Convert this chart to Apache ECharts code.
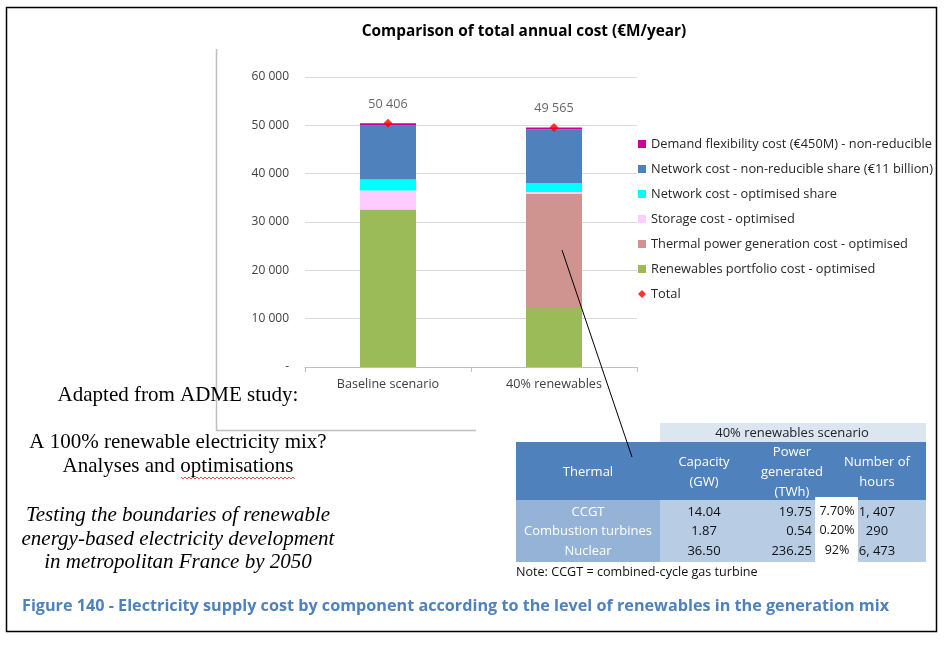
<!DOCTYPE html>
<html>
<head>
<meta charset="utf-8">
<script src="https://cdn.jsdelivr.net/npm/echarts@6.0.0/dist/echarts.min.js"></script>
<style>
html,body{margin:0;padding:0;background:#fff;}
#main{width:950px;height:647px;}
</style>
</head>
<body>
<div id="main"></div>
<script>
// chart data
var scenarios = ['Baseline scenario', '40% renewables'];
var renewablesCost = [32600, 12400];
var thermalCost = [0, 23400];
var storageCost = [3900, 400];
var networkOptCost = [2300, 1800];
var networkFixedCost = [11156, 11115];
var demandFlexCost = [450, 450];
var totalCost = [50406, 49565];
var yTicks = [0, 10000, 20000, 30000, 40000, 50000, 60000];

// table data (40% renewables scenario)
var thermalRows = ['CCGT', 'Combustion turbines', 'Nuclear'];
var capacityGW = ['14.04', '1.87', '36.50'];
var powerTWh = ['19.75', '0.54', '236.25'];
var powerShare = ['7.70%', '0.20%', '92%'];
var hoursRun = ['1, 407', '290', '6, 473'];

function fmt(v){
	if(v === 0) return '-';
	return String(v).replace(/\B(?=(\d{3})+(?!\d))/g, ' ');
}

var font = '"Open Sans", sans-serif';
var serif = '"Liberation Serif", "Times New Roman", serif';

var g = [];
// outer frame
g.push({type:'rect', shape:{x:6.5, y:7.5, width:930, height:624}, style:{fill:'none', stroke:'#000', lineWidth:1.5}, z:0});
// chart object frame (left + bottom)
g.push({type:'polyline', shape:{points:[[216.5,49],[216.5,430.5],[476,430.5]]}, style:{fill:'none', stroke:'#BFBFBF', lineWidth:1.5}});

// left text block
var leftLines = [
	{t:'Adapted from ADME study:', y:395, i:false},
	{t:'A 100% renewable electricity mix?', y:442, i:false},
	{t:'Analyses and optimisations', y:466, i:false},
	{t:'Testing the boundaries of renewable', y:515, i:true},
	{t:'energy-based electricity development', y:539, i:true},
	{t:'in metropolitan France by 2050', y:562, i:true}
];
leftLines.forEach(function(l){
	g.push({type:'text', z:10, style:{text:l.t, x:178, y:l.y, textAlign:'center', textVerticalAlign:'middle',
		font:(l.i ? 'italic ' : '') + '21px ' + serif, fill:'#000'}});
});
// spell-check squiggle
var sq = [];
for(var sx = 181; sx <= 295; sx += 2){ sq.push([sx, (sx % 4 === 1) ? 477 : 479]); }
g.push({type:'polyline', z:10, shape:{points:sq}, style:{fill:'none', stroke:'#E02020', lineWidth:0.8}});

// table
var tx0 = 516, tc1 = 660, tx1 = 926;
g.push({type:'rect', shape:{x:tc1, y:423, width:tx1-tc1, height:19}, style:{fill:'#DCE6F1'}});
g.push({type:'text', style:{text:'40% renewables scenario', x:792, y:433, textAlign:'center', textVerticalAlign:'middle', font:'13px ' + font, fill:'#222'}});
g.push({type:'rect', shape:{x:tx0, y:442, width:tx1-tx0, height:58}, style:{fill:'#4F81BD'}});
g.push({type:'rect', shape:{x:tx0, y:500, width:tc1-tx0, height:62}, style:{fill:'#95B3D7'}});
g.push({type:'rect', shape:{x:tc1, y:500, width:tx1-tc1, height:62}, style:{fill:'#B8CCE4'}});
g.push({type:'rect', shape:{x:815, y:497, width:43, height:65}, style:{fill:'#FFFFFF'}});
var hdr = [
	{t:'Thermal', x:588, y:472},
	{t:'Capacity\n(GW)', x:704, y:472},
	{t:'Power\ngenerated\n(TWh)', x:792, y:472},
	{t:'Number of\nhours', x:877, y:472}
];
hdr.forEach(function(h){
	g.push({type:'text', style:{text:h.t, x:h.x, y:h.y, textAlign:'center', textVerticalAlign:'middle', lineHeight:20, font:'13px ' + font, fill:'#fff'}});
});
thermalRows.forEach(function(name, i){
	var ry = 512 + i * 19.5;
	g.push({type:'text', style:{text:name, x:588, y:ry, textAlign:'center', textVerticalAlign:'middle', font:'13px ' + font, fill:'#fff'}});
	g.push({type:'text', style:{text:capacityGW[i], x:704, y:ry, textAlign:'center', textVerticalAlign:'middle', font:'13px ' + font, fill:'#111'}});
	g.push({type:'text', style:{text:powerTWh[i], x:812, y:ry, textAlign:'right', textVerticalAlign:'middle', font:'13px ' + font, fill:'#111'}});
	g.push({type:'text', style:{text:powerShare[i], x:837, y:ry - 1, textAlign:'center', textVerticalAlign:'middle', font:'12.5px ' + font, fill:'#111'}});
	g.push({type:'text', style:{text:hoursRun[i], x:877, y:ry, textAlign:'center', textVerticalAlign:'middle', font:'13px ' + font, fill:'#111'}});
});
g.push({type:'text', style:{text:'Note: CCGT = combined-cycle gas turbine', x:516, y:572, textVerticalAlign:'middle', font:'12.6px ' + font, fill:'#111'}});
// pointer line from thermal segment to table
g.push({type:'line', z:20, shape:{x1:562, y1:250, x2:632, y2:457}, style:{stroke:'#000', lineWidth:1}});

// caption
g.push({type:'text', style:{text:'Figure 140 - Electricity supply cost by component according to the level of renewables in the generation mix',
	x:22, y:606, textVerticalAlign:'middle', font:'bold 16.2px ' + font, fill:'#4F81BD'}});

var myChart = echarts.init(document.getElementById('main'));
var barBase = {type:'bar', stack:'cost', barWidth:56, emphasis:{disabled:true}};
var option = {
	animation:false,
	backgroundColor:'#fff',
	title:{
		text:'Comparison of total annual cost (€M/year)',
		left:519, top:19, textAlign:'center',
		textStyle:{fontFamily:font, fontSize:15.4, fontWeight:'bold', color:'#000'}
	},
	legend:{
		orient:'vertical', left:633, top:130, itemGap:7, itemWidth:8, itemHeight:8,
		textStyle:{fontFamily:font, fontSize:12.8, color:'#262626', lineHeight:18},
		data:[
			{name:'Demand flexibility cost (€450M) - non-reducible', icon:'rect'},
			{name:'Network cost - non-reducible share (€11 billion)', icon:'rect'},
			{name:'Network cost - optimised share', icon:'rect'},
			{name:'Storage cost - optimised', icon:'rect'},
			{name:'Thermal power generation cost - optimised', icon:'rect'},
			{name:'Renewables portfolio cost - optimised', icon:'rect'},
			{name:'Total', icon:'diamond'}
		]
	},
	grid:{left:305, right:313, top:77, bottom:280},
	xAxis:{
		type:'category', data:scenarios,
		axisLine:{lineStyle:{color:'#BFBFBF', width:1}},
		axisTick:{show:true, length:5, lineStyle:{color:'#BFBFBF'}},
		axisLabel:{fontFamily:font, fontSize:12.6, color:'#404040', margin:11}
	},
	yAxis:{
		type:'value', min:0, max:60000, interval:10000,
		axisLine:{show:false}, axisTick:{show:false},
		splitLine:{lineStyle:{color:'#D9D9D9', width:1}},
		axisLabel:{fontFamily:font, fontSize:12, color:'#404040', margin:16,
			formatter:function(v){ return yTicks.indexOf(v) >= 0 ? fmt(v) : ''; }}
	},
	series:[
		Object.assign({name:'Renewables portfolio cost - optimised', data:renewablesCost, itemStyle:{color:'#9BBB59'}}, barBase),
		Object.assign({name:'Thermal power generation cost - optimised', data:thermalCost, itemStyle:{color:'#D09490'}}, barBase),
		Object.assign({name:'Storage cost - optimised', data:storageCost, itemStyle:{color:'#FFCCFF'}}, barBase),
		Object.assign({name:'Network cost - optimised share', data:networkOptCost, itemStyle:{color:'#00FFFF'}}, barBase),
		Object.assign({name:'Network cost - non-reducible share (€11 billion)', data:networkFixedCost, itemStyle:{color:'#4F81BD'}}, barBase),
		Object.assign({name:'Demand flexibility cost (€450M) - non-reducible', data:demandFlexCost, itemStyle:{color:'#CC0099'}}, barBase),
		{
			name:'Total', type:'scatter', data:totalCost, symbol:'diamond', symbolSize:9, z:5,
			itemStyle:{color:'#FF0000'},
			label:{show:true, position:'top', distance:8, fontFamily:font, fontSize:12.6, color:'#404040',
				formatter:function(p){ return fmt(p.value); }}
		}
	],
	graphic:g
};
myChart.setOption(option);
</script>
</body>
</html>
